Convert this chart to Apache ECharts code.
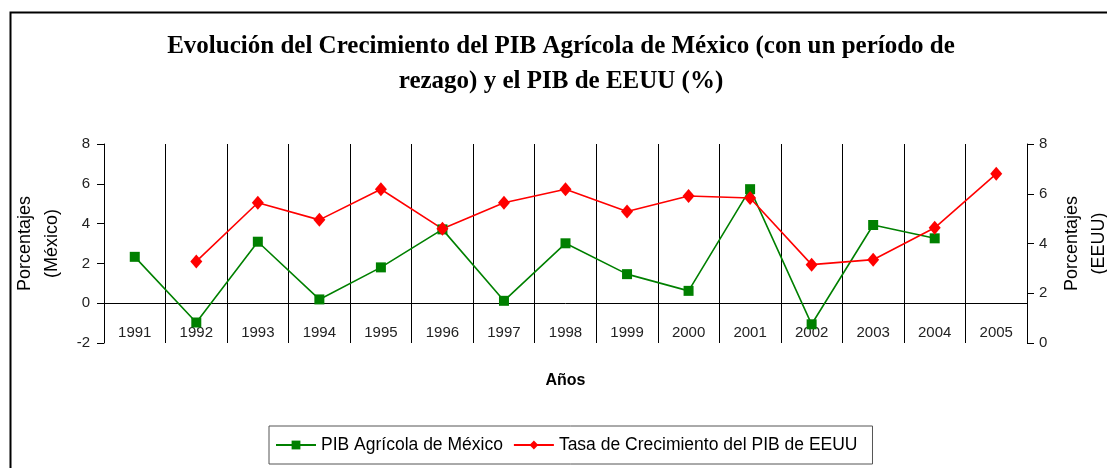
<!DOCTYPE html>
<html>
<head>
<meta charset="utf-8">
<script src="https://cdn.jsdelivr.net/npm/echarts@6/dist/echarts.min.js"></script>
<style>
  html, body { margin: 0; padding: 0; background: #fff; }
  #chart { width: 1107px; height: 468px; }
</style>
</head>
<body>
<div id="chart"></div>
<script>
// años (categorías)
const years = ['1991', '1992', '1993', '1994', '1995', '1996', '1997', '1998',
  '1999', '2000', '2001', '2002', '2003', '2004', '2005'];

// PIB agrícola de México (eje izquierdo), sin dato en 2005
const pibMexico = [2.33, -0.97, 3.09, 0.19, 1.80, 3.71, 0.12, 3.01,
  1.46, 0.62, 5.73, -1.06, 3.93, 3.26, null];

// tasa de crecimiento del PIB de EEUU (eje derecho), sin dato en 1991
const pibEEUU = [null, 3.28, 5.64, 4.95, 6.18, 4.59, 5.64, 6.18,
  5.29, 5.91, 5.83, 3.15, 3.35, 4.63, 6.80];

const sans = '"Liberation Sans", Arial, sans-serif';

const chart = echarts.init(document.getElementById('chart'));

chart.setOption({
  animation: false,
  backgroundColor: '#fff',
  graphic: [
    {
      type: 'rect',
      left: 8,
      top: 10,
      shape: { width: 1200, height: 500 },
      style: { fill: 'none', stroke: '#000', lineWidth: 2 },
      silent: true,
      z: -1
    }
  ],
  title: {
    text: 'Evolución del Crecimiento del PIB Agrícola de México (con un período de\nrezago) y el PIB de EEUU (%)',
    left: 556,
    textAlign: 'center',
    top: 24,
    textStyle: {
      fontFamily: '"Liberation Serif", "Times New Roman", serif',
      fontWeight: 'bold',
      fontSize: 25,
      lineHeight: 35,
      color: '#000'
    }
  },
  legend: {
    left: 269,
    top: 426,
    padding: [10, 15, 10, 6],
    itemGap: 10,
    itemWidth: 40,
    itemHeight: 11,
    borderColor: '#555',
    borderWidth: 1,
    textStyle: { fontFamily: sans, fontSize: 17.5, color: '#000' },
    data: ['PIB Agrícola de México', 'Tasa de Crecimiento del PIB de EEUU']
  },
  grid: { left: 104, right: 80, top: 144, bottom: 125, outerBoundsMode: 'none' },
  xAxis: {
    type: 'category',
    data: years,
    boundaryGap: true,
    name: 'Años',
    nameLocation: 'middle',
    nameGap: 30,
    nameTextStyle: { fontFamily: sans, fontWeight: 'bold', fontSize: 16, color: '#000' },
    axisLine: { onZero: true, onZeroAxisIndex: 0, lineStyle: { color: '#000', width: 1 } },
    axisTick: { show: true, length: 5, lineStyle: { color: '#000' } },
    axisLabel: { margin: -18, fontFamily: sans, fontSize: 15, color: '#222' },
    splitLine: { show: true, lineStyle: { color: '#000', width: 1 } }
  },
  yAxis: [
    {
      type: 'value',
      min: -2,
      max: 8,
      interval: 2,
      name: 'Porcentajes\n(México)',
      nameLocation: 'middle',
      nameGap: 30,
      nameTextStyle: { fontFamily: sans, fontSize: 18, color: '#000', lineHeight: 27 },
      axisLine: { show: true, lineStyle: { color: '#000' } },
      axisTick: { show: true, length: 7, lineStyle: { color: '#000' } },
      axisLabel: { margin: 14, fontFamily: sans, fontSize: 15, color: '#222' },
      splitLine: { show: false }
    },
    {
      type: 'value',
      min: 0,
      max: 8,
      interval: 2,
      position: 'right',
      name: 'Porcentajes\n(EEUU)',
      nameLocation: 'middle',
      nameGap: 31,
      nameTextStyle: { fontFamily: sans, fontSize: 18, color: '#000', lineHeight: 27 },
      axisLine: { show: true, lineStyle: { color: '#000' } },
      axisTick: { show: true, length: 7, lineStyle: { color: '#000' } },
      axisLabel: { margin: 12, fontFamily: sans, fontSize: 15, color: '#222' },
      splitLine: { show: false }
    }
  ],
  series: [
    {
      name: 'PIB Agrícola de México',
      type: 'line',
      yAxisIndex: 0,
      data: pibMexico,
      symbol: 'rect',
      symbolSize: 10,
      connectNulls: false,
      itemStyle: { color: '#008000' },
      lineStyle: { color: '#008000', width: 1.6 }
    },
    {
      name: 'Tasa de Crecimiento del PIB de EEUU',
      type: 'line',
      yAxisIndex: 1,
      data: pibEEUU,
      symbol: 'diamond',
      symbolSize: [12, 14],
      connectNulls: false,
      itemStyle: { color: '#ff0000' },
      lineStyle: { color: '#ff0000', width: 1.6 }
    }
  ]
});

window.addEventListener('resize', () => chart.resize());
</script>
</body>
</html>
